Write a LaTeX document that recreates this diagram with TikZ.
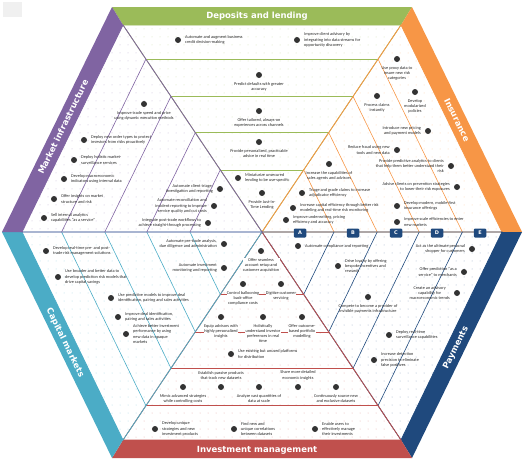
\documentclass[tikz,border=0pt]{standalone}
\usepackage{fontspec}
\setmainfont{Carlito}
\newfontfamily\headfont{DejaVu Sans}
\usetikzlibrary{positioning,calc,patterns.meta}
\definecolor{deposit}{HTML}{9BBB59}
\definecolor{insur}{HTML}{F79646}
\definecolor{payment}{HTML}{1F497D}
\definecolor{invest}{HTML}{C0504D}
\definecolor{capital}{HTML}{4BACC6}
\definecolor{market}{HTML}{8064A2}
\begin{document}
\begin{tikzpicture}[x=1pt,y=-1pt,
  item/.style={circle,fill=black!80,minimum size=6pt,inner sep=0pt},
  lbl/.style={font=\fontsize{4.3}{5.2}\selectfont,inner sep=0.3pt,text=black!85},
  txr/.style={right=3.5pt of #1,align=left}, txl/.style={left=3.5pt of #1,align=right},
  txlc/.style={left=3.5pt of #1,align=center},
  txb/.style={below=3.5pt of #1,align=center}, txa/.style={above=3.5pt of #1,align=center},
  band/.style={font=\headfont\bfseries\fontsize{8.5}{10}\selectfont,text=white,inner sep=1pt},
  tag/.style={fill=payment,rounded corners=1.2pt,text=white,font=\headfont\bfseries\fontsize{5}{5}\selectfont,minimum width=12.5pt,minimum height=9pt,inner sep=0pt},
  strip/.style={line width=0.6pt}]
\useasboundingbox (0,0) rectangle (530,469);
\fill[black!6] (3,2) rectangle (22,17);
\coordinate (c) at (262,232);
\coordinate (i1) at (123,25); \coordinate (i2) at (401,25); \coordinate (i3) at (502,232);
\coordinate (i4) at (401,440); \coordinate (i5) at (123,440); \coordinate (i6) at (22,232);
\coordinate (o1) at (112,7); \coordinate (o2) at (412,7); \coordinate (o3) at (522,232);
\coordinate (o4) at (412,458); \coordinate (o5) at (112,458); \coordinate (o6) at (2,232);
\foreach \a/\b/\p/\q/\col in {i1/i2/o1/o2/deposit,i2/i3/o2/o3/insur,i3/i4/o3/o4/payment,i4/i5/o4/o5/invest,i5/i6/o5/o6/capital,i6/i1/o6/o1/market}{
  \fill[pattern={Dots[distance=8pt,radius=0.5pt]},pattern color=\col!45] (c)--(\a)--(\b)--cycle;
  \fill[\col] (\p)--(\q)--(\b)--(\a)--cycle;
  \foreach \t in {0.3,0.48,0.655,0.835} \draw[strip,\col] ($(c)!\t!(\a)$)--($(c)!\t!(\b)$);
  \draw[\col,line width=0.8pt] (c)--(\a)--(\b)--cycle;
}
\node[band] (tdep) at (257,16) {Deposits and lending};
\node[band,rotate=-64] (tins) at (457,120) {Insurance};
\node[band,rotate=64] (tpay) at (456,348) {Payments};
\node[band] (tinv) at (257,450) {Investment management};
\node[band,rotate=-64] (tcap) at (65,343) {Capital markets};
\node[band,rotate=64] (tmkt) at (63,127) {Market infrastructure};
\foreach \x/\y/\pos/\txt [count=\i] in {
  178/40/txr/{Automate and augment business\\credit decision-making},
  297/40/txr/{Improve client advisory by\\integrating into data streams for\\opportunity discovery},
  259/75/txb/{Predict defaults with greater\\accuracy},
  259/111/txb/{Offer tailored, always-on\\experiences across channels},
  259/142/txb/{Provide personalized, practicable\\advice in real time},
  238/178/txr/{Miniaturize unsecured\\lending to be use-specific},
  262/193/txb/{Provide Just-In-\\Time Lending},
  144/104/txb/{Improve trade speed and price\\using dynamic execution methods},
  84/140/txr/{Deploy new order types to protect\\investors from risks proactively},
  74/160/txr/{Deploy holistic market-\\surveillance services},
  64/179/txr/{Develop macroeconomic\\indicators using internal data},
  54/199/txr/{Offer insights on market\\structure and risk},
  44/218/txr/{Sell internal analytics\\capabilities “as a service”},
  220/189/txl/{Automate client triage,\\investigation and reporting},
  214/206/txl/{Automate reconciliation and\\incident reporting to improve\\service quality and cut costs},
  208/223/txl/{Integrate post-trade workflows to\\achieve straight-through processing},
  397/59/txb/{Use proxy data to\\insure new risk\\categories},
  415/92/txb/{Develop\\modularized\\policies},
  377/96/txb/{Process claims\\instantly},
  428/131/txl/{Introduce new pricing\\and payment models},
  397/150/txl/{Reduce fraud using new\\tools and new data},
  451/166/txl/{Provide predictive analytics to clients\\that help them better understand their\\risk},
  457/187/txl/{Advise clients on prevention strategies\\to lower their risk exposures},
  397/206/txr/{Develop modern, mobile-first\\insurance offerings},
  397/222/txr/{Improve scale efficiencies to enter\\new markets},
  329/164/txb/{Increase the capabilities of\\sales agents and advisors},
  302/193/txr/{Triage and grade claims to increase\\adjudicator efficiency},
  293/208/txr/{Increase capital efficiency through better risk\\modeling and real-time risk monitoring},
  286/220/txr/{Improve underwriting, pricing\\efficiency and accuracy},
  298/246/txr/{Automate compliance and reporting},
  338/266/txr/{Drive loyalty by offering\\bespoke incentives and\\rewards},
  368/297/txb/{Compete to become a provider of\\invisible payments infrastructure},
  472/249/txl/{Act as the ultimate personal\\shopper for customers},
  464/272/txl/{Offer prediction “as a\\service” to merchants},
  457/293/txlc/{Create an advisory\\capability for\\macroeconomic trends},
  389/335/txr/{Deploy real-time\\surveillance capabilities},
  374/360/txr/{Increase detection\\precision to eliminate\\false positives},
  46/251/txr/{Develop real-time pre- and post-\\trade risk management solutions},
  58/277/txr/{Use broader and better data to\\develop prediction risk models that\\drive capital savings},
  111/298/txr/{Use predictive models to improve deal\\identification, pairing and sales activities},
  118/317/txr/{Improve deal identification,\\pairing and sales activities},
  126/334/txr/{Achieve better investment\\performance by using\\new data in opaque\\markets},
  224/244/txl/{Automate pre-trade analysis,\\due diligence and administration},
  224/268/txl/{Automate investment\\monitoring and reporting}}{
  \node[item] (d\i) at (\x,\y) {};
  \node[lbl,\pos=d\i] (t\i) {\txt};
}
\foreach \x/\y/\pos/\txt [count=\i] in {
  261/251/txb/{Offer seamless\\account setup and\\customer acquisition},
  243/284/txb/{Control ballooning\\back-office\\compliance costs},
  281/284/txb/{Digitize customer\\servicing},
  221/317/txb/{Equip advisors with\\highly personalized\\insights},
  263/317/txb/{Holistically\\understand investor\\preferences in real\\time},
  302/317/txb/{Offer outcome-\\based portfolio\\modelling},
  231/354/txr/{Use existing but unused platforms\\for distribution},
  221/387/txa/{Establish passive products\\that track new datasets},
  298/387/txa/{Share more detailed\\economic insights},
  183/387/txb/{Mimic advanced strategies\\while controlling costs},
  259/387/txb/{Analyze vast quantities of\\data at scale},
  336/387/txb/{Continuously source new\\and exclusive datasets},
  155/429/txr/{Develop unique\\strategies and new\\investment products},
  234/429/txr/{Find new and\\unique correlations\\between datasets},
  315/429/txr/{Enable users to\\effectively manage\\their investments}}{
  \node[item] (r\i) at (\x,\y) {};
  \node[lbl,fill=white,\pos=r\i] (s\i) {\txt};
}
\foreach \l/\x in {A/300,B/353,C/396,D/437,E/480} \node[tag] (tag\l) at (\x,233) {\l};
\end{tikzpicture}
\end{document}
